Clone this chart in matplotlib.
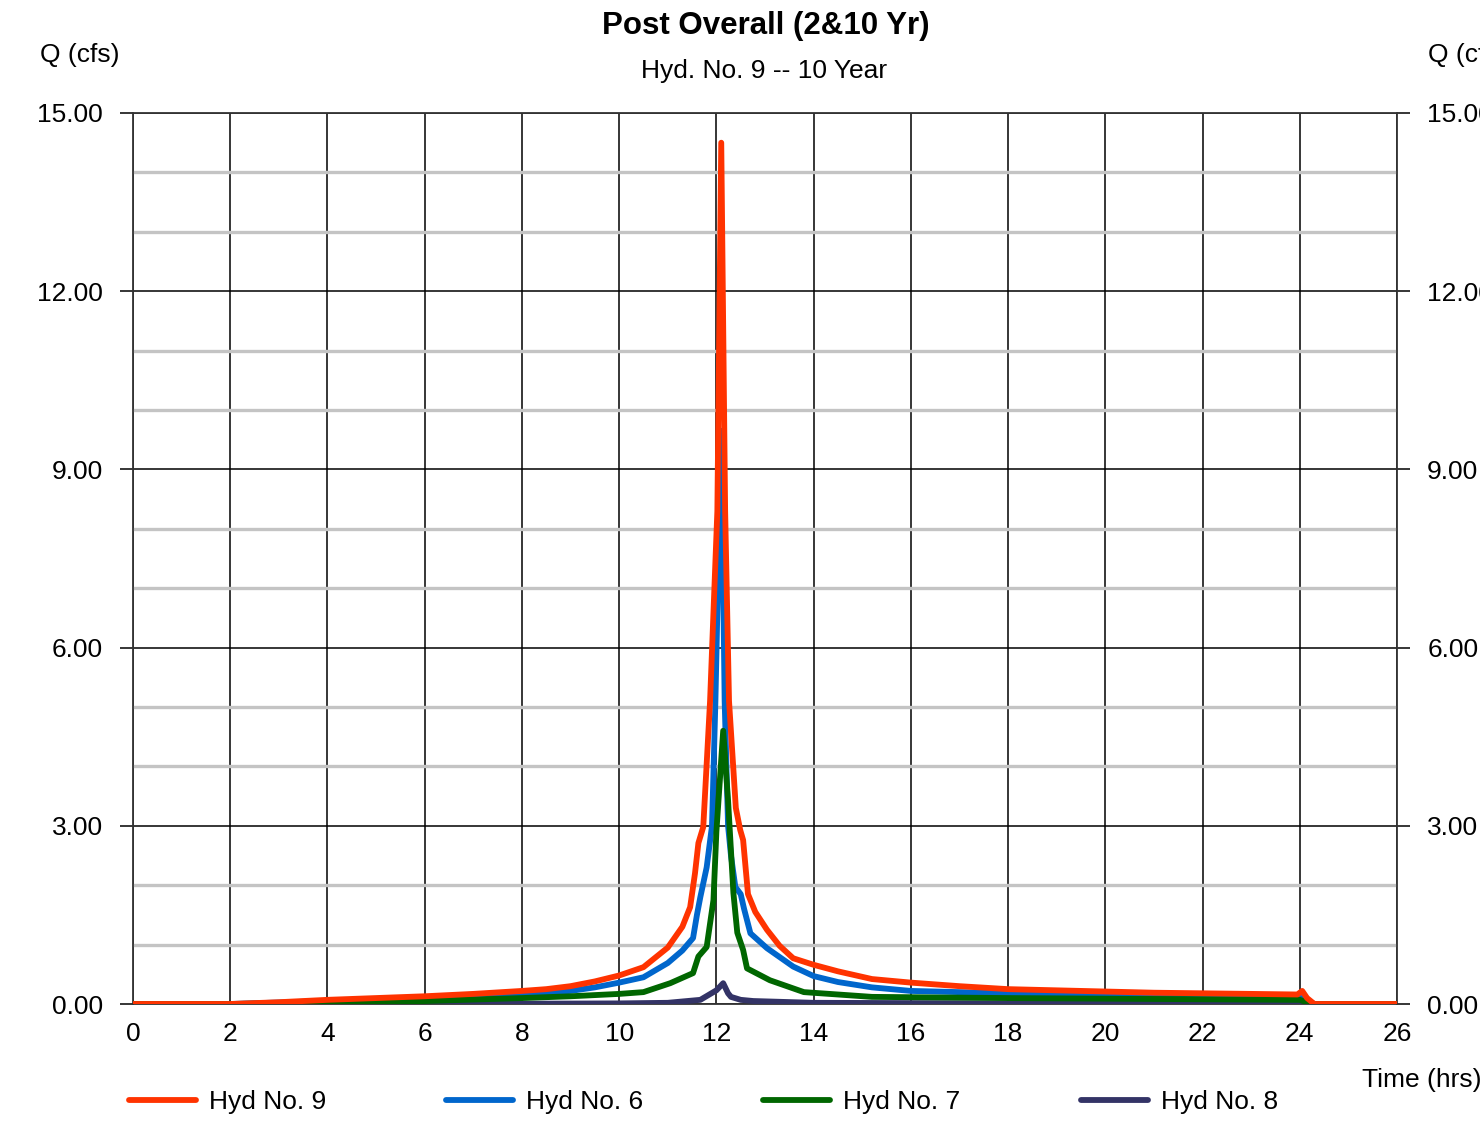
import matplotlib
matplotlib.use("Agg")
import matplotlib.pyplot as plt
from matplotlib.ticker import MultipleLocator, FormatStrFormatter

plt.rcParams['font.family'] = ['Liberation Sans', 'DejaVu Sans']

# ---- data ----
t9 = [0, 2, 3, 4, 5, 6, 7, 8, 8.5, 9, 9.5, 10, 10.5, 11, 11.3, 11.46, 11.56, 11.63, 11.73,
      11.87, 12.02, 12.1, 12.18, 12.26, 12.4, 12.49, 12.55, 12.65, 12.8, 13.04, 13.3, 13.58,
      14.0, 14.5, 15.2, 16, 17, 18, 19, 20, 21, 22, 23, 23.95, 24.05, 24.15, 24.3, 26]
q9 = [0, 0, 0.03, 0.07, 0.1, 0.13, 0.17, 0.22, 0.25, 0.3, 0.38, 0.48, 0.62, 0.95, 1.3, 1.63,
      2.2, 2.71, 2.98, 5.1, 8.3, 14.5, 8.3, 5.1, 3.3, 2.93, 2.76, 1.85, 1.55, 1.25, 0.98, 0.77,
      0.66, 0.55, 0.42, 0.36, 0.3, 0.25, 0.23, 0.21, 0.19, 0.18, 0.17, 0.16, 0.22, 0.1, 0.0, 0.0]

t6 = [0, 2, 4, 6, 8, 9, 9.5, 10, 10.5, 11, 11.3, 11.52, 11.6, 11.67, 11.8, 11.91, 11.98, 12.1,
      12.17, 12.24, 12.3, 12.39, 12.5, 12.57, 12.7, 13.04, 13.58, 14.0, 14.5, 15.2, 16, 18, 20,
      22, 24.0, 24.15, 24.3, 26]
q6 = [0, 0, 0.05, 0.1, 0.17, 0.22, 0.28, 0.36, 0.45, 0.69, 0.9, 1.11, 1.5, 1.8, 2.3, 3.0, 5.1,
      9.65, 5.1, 3.0, 2.5, 1.97, 1.85, 1.6, 1.19, 0.94, 0.63, 0.47, 0.37, 0.28, 0.22, 0.18, 0.15,
      0.13, 0.11, 0.05, 0, 0]

t7 = [0, 2, 4, 6, 8, 9, 10, 10.5, 11.05, 11.52, 11.63, 11.8, 11.94, 12.0, 12.14, 12.24, 12.35,
      12.43, 12.55, 12.63, 13.1, 13.8, 15.2, 18, 20, 22, 24, 24.15, 24.3, 26]
q7 = [0, 0, 0.02, 0.05, 0.1, 0.13, 0.17, 0.2, 0.35, 0.52, 0.8, 0.96, 1.75, 2.9, 4.6, 3.43, 1.87,
      1.2, 0.91, 0.6, 0.4, 0.2, 0.12, 0.1, 0.09, 0.08, 0.07, 0.03, 0, 0]

t8 = [0, 6, 10, 11, 11.67, 12.0, 12.14, 12.24, 12.3, 12.5, 12.76, 14, 18, 24, 24.1, 26]
q8 = [0, 0, 0.01, 0.02, 0.07, 0.23, 0.35, 0.18, 0.12, 0.07, 0.05, 0.02, 0.01, 0.01, 0, 0]

labels = ["Hyd No. 9", "Hyd No. 6", "Hyd No. 7", "Hyd No. 8"]
colors = ["#FF3300", "#0066CC", "#006600", "#333366"]

fig = plt.figure(figsize=(14.8, 11.23), dpi=100)
ax = fig.add_axes([133/1480, 1 - 1004/1123, (1397-133)/1480, (1004-113)/1123])

lw = 4.2
l8, = ax.plot(t8, q8, color=colors[3], lw=lw, zorder=4, solid_capstyle='round')
l6, = ax.plot(t6, q6, color=colors[1], lw=lw, zorder=5, solid_capstyle='round')
l7, = ax.plot(t7, q7, color=colors[2], lw=lw, zorder=6, solid_capstyle='round')
l9, = ax.plot(t9, q9, color=colors[0], lw=lw, zorder=7, solid_capstyle='round')

ax.set_xlim(0, 26)
ax.set_ylim(0, 15)
ax.xaxis.set_major_locator(MultipleLocator(2))
ax.yaxis.set_major_locator(MultipleLocator(3))
ax.yaxis.set_minor_locator(MultipleLocator(1))
ax.yaxis.set_major_formatter(FormatStrFormatter('%.2f'))

ax.grid(True, which='major', axis='x', color='black', lw=1.1, zorder=1)
ax.grid(True, which='major', axis='y', color='black', lw=1.1, zorder=2)
ax.grid(True, which='minor', axis='y', color='#c4c4c4', lw=2.4, zorder=1)
for s in ax.spines.values():
    s.set_color('#333333')
    s.set_linewidth(1.3)

FS = 19
ax.tick_params(axis='y', which='major', direction='out', length=9.4, width=1.1,
               labelsize=FS, pad=12.3, left=True, right=True, labelleft=True, labelright=True)
ax.tick_params(axis='y', which='minor', length=0)
ax.tick_params(axis='x', which='major', length=0, labelsize=FS, pad=13)

fig.text(0.5175, 1 - 26/1123, "Post Overall (2&10 Yr)", ha='center', va='center',
         fontsize=22.5, fontweight='bold')
fig.text(0.5165, 1 - 71/1123, "Hyd. No. 9 -- 10 Year", ha='center', va='center', fontsize=FS)
fig.text(40/1480, 1 - 55/1123, "Q (cfs)", ha='left', va='center', fontsize=FS)
fig.text(1428/1480, 1 - 55/1123, "Q (cfs)", ha='left', va='center', fontsize=FS)
fig.text(1362/1480, 1 - 1080/1123, "Time (hrs)", ha='left', va='center', fontsize=FS)

leg = fig.legend([l9, l6, l7, l8], labels, ncol=4, loc='center left',
                 bbox_to_anchor=(129/1480, 1 - 1102/1123), frameon=False, fontsize=FS,
                 handlelength=2.54, handletextpad=0.49, columnspacing=4.55, borderpad=0,
                 borderaxespad=0)
for h in leg.get_lines():
    h.set_linewidth(4.2)

fig.savefig("out.png", dpi=100)
